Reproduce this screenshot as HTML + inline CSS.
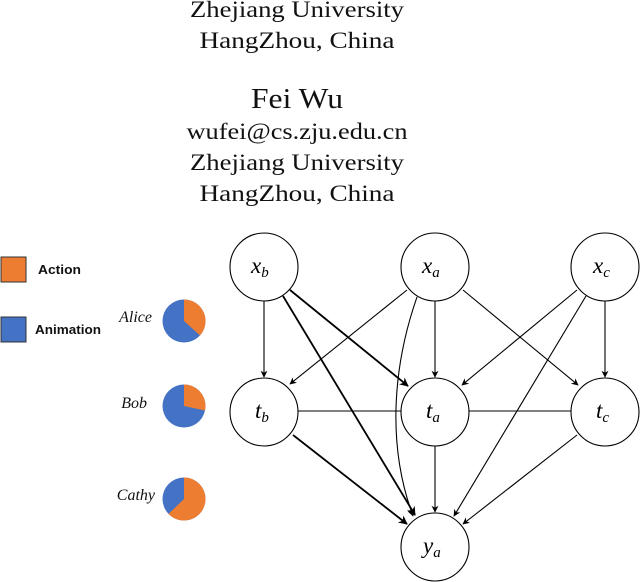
<!DOCTYPE html>
<html><head><meta charset="utf-8"><style>
html,body{margin:0;padding:0;background:#fff;}
svg{display:block;}
</style></head><body>
<svg width="640" height="582" viewBox="0 0 640 582" xmlns="http://www.w3.org/2000/svg">
<defs>
<marker id="ah" viewBox="0 0 10 10" refX="9" refY="5" markerWidth="7" markerHeight="7" markerUnits="userSpaceOnUse" orient="auto">
<path d="M0,0 L10,5 L0,10 L3,5 z" fill="#000"/></marker>
<marker id="ahb" viewBox="0 0 10 10" refX="9" refY="5" markerWidth="9" markerHeight="9" markerUnits="userSpaceOnUse" orient="auto">
<path d="M0,0 L10,5 L0,10 L3,5 z" fill="#000"/></marker>
</defs>
<g font-family="Liberation Serif, serif" fill="#111" text-anchor="middle">
<text x="297" y="17" font-size="23" textLength="214" lengthAdjust="spacingAndGlyphs">Zhejiang University</text>
<text x="297" y="48" font-size="23" textLength="195" lengthAdjust="spacingAndGlyphs">HangZhou, China</text>
<text x="297" y="108" font-size="28" textLength="92" lengthAdjust="spacingAndGlyphs">Fei Wu</text>
<text x="297" y="139" font-size="23" textLength="221" lengthAdjust="spacingAndGlyphs">wufei@cs.zju.edu.cn</text>
<text x="297" y="170" font-size="23" textLength="214" lengthAdjust="spacingAndGlyphs">Zhejiang University</text>
<text x="297" y="201" font-size="23" textLength="195" lengthAdjust="spacingAndGlyphs">HangZhou, China</text>
</g>
<rect x="1" y="257" width="25" height="25" fill="#ED7D31" stroke="#333" stroke-width="1"/>
<rect x="1" y="317" width="25" height="25" fill="#4472C4" stroke="#333" stroke-width="1"/>
<g font-family="Liberation Sans, sans-serif" font-weight="bold" font-size="12.5" fill="#111">
<text x="38" y="274" textLength="43" lengthAdjust="spacingAndGlyphs">Action</text>
<text x="35" y="334" textLength="66" lengthAdjust="spacingAndGlyphs">Animation</text>
</g>
<g font-family="Liberation Serif, serif" font-style="italic" font-size="16" fill="#111" text-anchor="end">
<text x="152" y="322">Alice</text>
<text x="147" y="408">Bob</text>
<text x="155" y="500">Cathy</text>
</g>
<g>
<circle cx="184" cy="321" r="21.5" fill="#4472C4"/>
<path d="M184,321 L184,299.5 A21.5,21.5 0 0 1 200,335.4 Z" fill="#ED7D31"/>
<circle cx="184" cy="406" r="21.5" fill="#4472C4"/>
<path d="M184,406 L184,384.5 A21.5,21.5 0 0 1 205,410.5 Z" fill="#ED7D31"/>
<circle cx="184" cy="499" r="21.5" fill="#4472C4"/>
<path d="M184,499 L184,477.5 A21.5,21.5 0 1 1 168.5,513.9 Z" fill="#ED7D31"/>
</g>
<g stroke="#000" fill="none" stroke-width="1.1" marker-end="url(#ah)">
<line x1="264" y1="301" x2="264" y2="377"/>
<line x1="407" y1="290" x2="290" y2="384"/>
<line x1="435" y1="301" x2="435" y2="377"/>
<line x1="463" y1="290" x2="578" y2="385"/>
<line x1="577" y1="290" x2="462" y2="385"/>
<line x1="605" y1="301" x2="605" y2="377"/>
<line x1="586" y1="296" x2="454" y2="516"/>
<line x1="435" y1="446" x2="435" y2="512"/>
<line x1="577" y1="435" x2="463" y2="524"/>
<path d="M417,297 C395,360 385,440 413,516"/>
</g>
<g stroke="#000" fill="none" stroke-width="1.8" marker-end="url(#ahb)">
<line x1="290" y1="290" x2="408" y2="386"/>
<line x1="283" y1="296" x2="415" y2="515"/>
<line x1="293" y1="435" x2="407" y2="524"/>
</g>
<g stroke="#000" stroke-width="1.1">
<line x1="298" y1="411" x2="401" y2="411"/>
<line x1="469" y1="411" x2="571" y2="411"/>
</g>
<g fill="#fff" stroke="#000" stroke-width="1.1">
<circle cx="264" cy="267" r="34"/>
<circle cx="435" cy="267" r="34"/>
<circle cx="605" cy="267" r="34"/>
<circle cx="264" cy="412" r="34"/>
<circle cx="435" cy="412" r="34"/>
<circle cx="605" cy="412" r="34"/>
<circle cx="435" cy="547" r="34"/>
</g>
<g font-family="Liberation Serif, serif" font-style="italic" font-size="23" fill="#000">
<text x="251" y="273">x<tspan font-size="15" dy="4">b</tspan></text>
<text x="422" y="273">x<tspan font-size="15" dy="4">a</tspan></text>
<text x="593" y="273">x<tspan font-size="15" dy="4">c</tspan></text>
<text x="255" y="418">t<tspan font-size="15" dy="4">b</tspan></text>
<text x="426" y="418">t<tspan font-size="15" dy="4">a</tspan></text>
<text x="596" y="418">t<tspan font-size="15" dy="4">c</tspan></text>
<text x="423" y="553">y<tspan font-size="15" dy="4">a</tspan></text>
</g>
</svg>
</body></html>
